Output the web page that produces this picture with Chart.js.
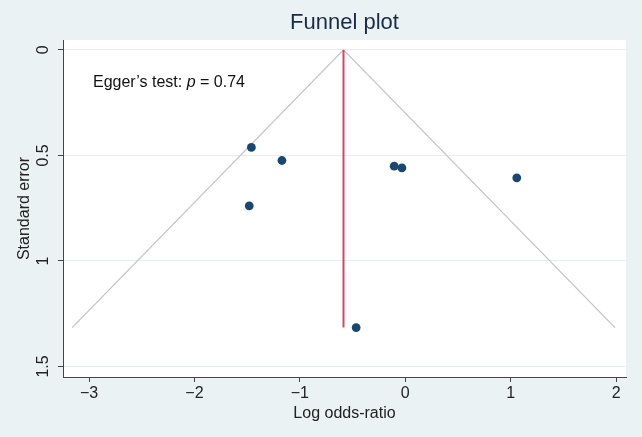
<!DOCTYPE html>
<html><head><meta charset="utf-8">
<script src="https://cdn.jsdelivr.net/npm/chart.js@4.4.0/dist/chart.umd.min.js"></script>
<style>html,body{margin:0;padding:0;background:#eaf2f3;} #wrap{width:642px;height:437px;}</style>
</head><body><div id="wrap"><canvas id="c" width="642" height="437"></canvas></div>
<script>
// Study estimates (log odds-ratio) and their standard errors
const studyLogOR = [-1.46, -1.17, -1.48, -0.105, -0.032, 1.058, -0.466];
const studySE    = [0.462, 0.524, 0.739, 0.551, 0.559, 0.606, 1.316];
// Pseudo 95% confidence funnel (left end, apex, right end)
const funnelX  = [-3.16, -0.586, 1.99];
const funnelSE = [1.316, 0, 1.316];
// Pooled estimate line
const pooledX  = [-0.586, -0.586];
const pooledSE = [0, 1.316];
// Axis ticks
const xTicks = [-3, -2, -1, 0, 1, 2];
const yTicks = [0, 0.5, 1, 1.5];
const yTickLabels = ['0', '0.5', '1', '1.5'];
const eggerText = ['Egger\u2019s test: ', 'p', ' = 0.74'];

const FONT = "'Liberation Sans', Arial, sans-serif";
const toPts = (xs, ys) => xs.map((x, i) => ({x: x, y: ys[i]}));

const bgPlugin = {
  id: 'bg',
  beforeDraw(chart) {
    const {ctx, chartArea: a} = chart;
    ctx.save();
    ctx.fillStyle = '#eaf2f3';
    ctx.fillRect(0, 0, chart.width, chart.height);
    ctx.fillStyle = '#ffffff';
    ctx.fillRect(a.left, a.top, a.right - a.left, a.bottom - a.top);
    ctx.restore();
  }
};

const yLabelPlugin = {
  id: 'yLabels',
  afterDraw(chart) {
    const {ctx} = chart;
    const ys = chart.scales.y;
    ctx.save();
    ctx.font = '16px ' + FONT;
    ctx.fillStyle = '#222';
    ctx.textAlign = 'center';
    ctx.textBaseline = 'middle';
    yTicks.forEach((v, i) => {
      const py = ys.getPixelForValue(v);
      ctx.save();
      ctx.translate(ys.right - 19, py);
      ctx.rotate(-Math.PI / 2);
      ctx.fillText(yTickLabels[i], 0, 0);
      ctx.restore();
    });
    ctx.restore();
  }
};

const eggerPlugin = {
  id: 'egger',
  afterDatasetsDraw(chart) {
    const {ctx, chartArea: a} = chart;
    ctx.save();
    ctx.fillStyle = '#111';
    ctx.textBaseline = 'alphabetic';
    ctx.textAlign = 'left';
    let x = a.left + 30;
    const y = a.top + 47;
    eggerText.forEach((t, i) => {
      ctx.font = (i === 1 ? 'italic ' : '') + '16px ' + FONT;
      ctx.fillText(t, x, y);
      x += ctx.measureText(t).width;
    });
    ctx.restore();
  }
};

new Chart(document.getElementById('c'), {
  type: 'scatter',
  data: {
    datasets: [
      {
        type: 'line',
        data: toPts(funnelX, funnelSE),
        borderColor: '#c4c4c4',
        borderWidth: 1.3,
        pointRadius: 0,
        fill: false,
        tension: 0,
        order: 3
      },
      {
        type: 'line',
        data: toPts(pooledX, pooledSE),
        borderColor: '#d2466a',
        borderWidth: 2,
        pointRadius: 0,
        fill: false,
        order: 2
      },
      {
        type: 'scatter',
        data: toPts(studyLogOR, studySE),
        backgroundColor: '#1a476f',
        borderColor: '#1a476f',
        pointRadius: 4.4,
        pointBorderWidth: 0,
        order: 1
      }
    ]
  },
  options: {
    responsive: false,
    devicePixelRatio: 1,
    animation: false,
    layout: {padding: {top: 0, right: 16, bottom: 0, left: 0}},
    plugins: {
      legend: {display: false},
      tooltip: {enabled: false},
      title: {
        display: true,
        fullSize: false,
        text: 'Funnel plot',
        color: '#1b2a4a',
        font: {family: FONT, size: 22, weight: 'normal'},
        padding: {top: 10, bottom: 3.6}
      }
    },
    scales: {
      x: {
        type: 'linear',
        min: -3.247,
        max: 2.094,
        afterBuildTicks(s) { s.ticks = xTicks.map(v => ({value: v})); },
        afterFit(s) { s.height = 60; },
        ticks: {
          color: '#222',
          font: {family: FONT, size: 16},
          padding: 1.5,
          callback: v => String(v).replace('-', '\u2212')
        },
        grid: {drawOnChartArea: false, tickLength: 5, tickColor: '#444', tickWidth: 1},
        border: {display: true, color: '#444', width: 1},
        title: {
          display: true,
          text: 'Log odds-ratio',
          color: '#222',
          font: {family: FONT, size: 16},
          padding: {top: 0, bottom: 13.4}
        }
      },
      y: {
        type: 'linear',
        reverse: true,
        min: -0.047,
        max: 1.55,
        afterBuildTicks(s) { s.ticks = yTicks.map(v => ({value: v})); },
        afterFit(s) { s.width = 63; },
        ticks: {display: false},
        grid: {drawOnChartArea: true, color: '#e6eff1', lineWidth: 1, tickLength: 5, tickColor: '#444', tickWidth: 1},
        border: {display: true, color: '#444', width: 1},
        title: {
          display: true,
          text: 'Standard error',
          color: '#222',
          font: {family: FONT, size: 16},
          padding: {top: 15.4, bottom: 0}
        }
      }
    }
  },
  plugins: [bgPlugin, yLabelPlugin, eggerPlugin]
});
</script>
</body></html>
